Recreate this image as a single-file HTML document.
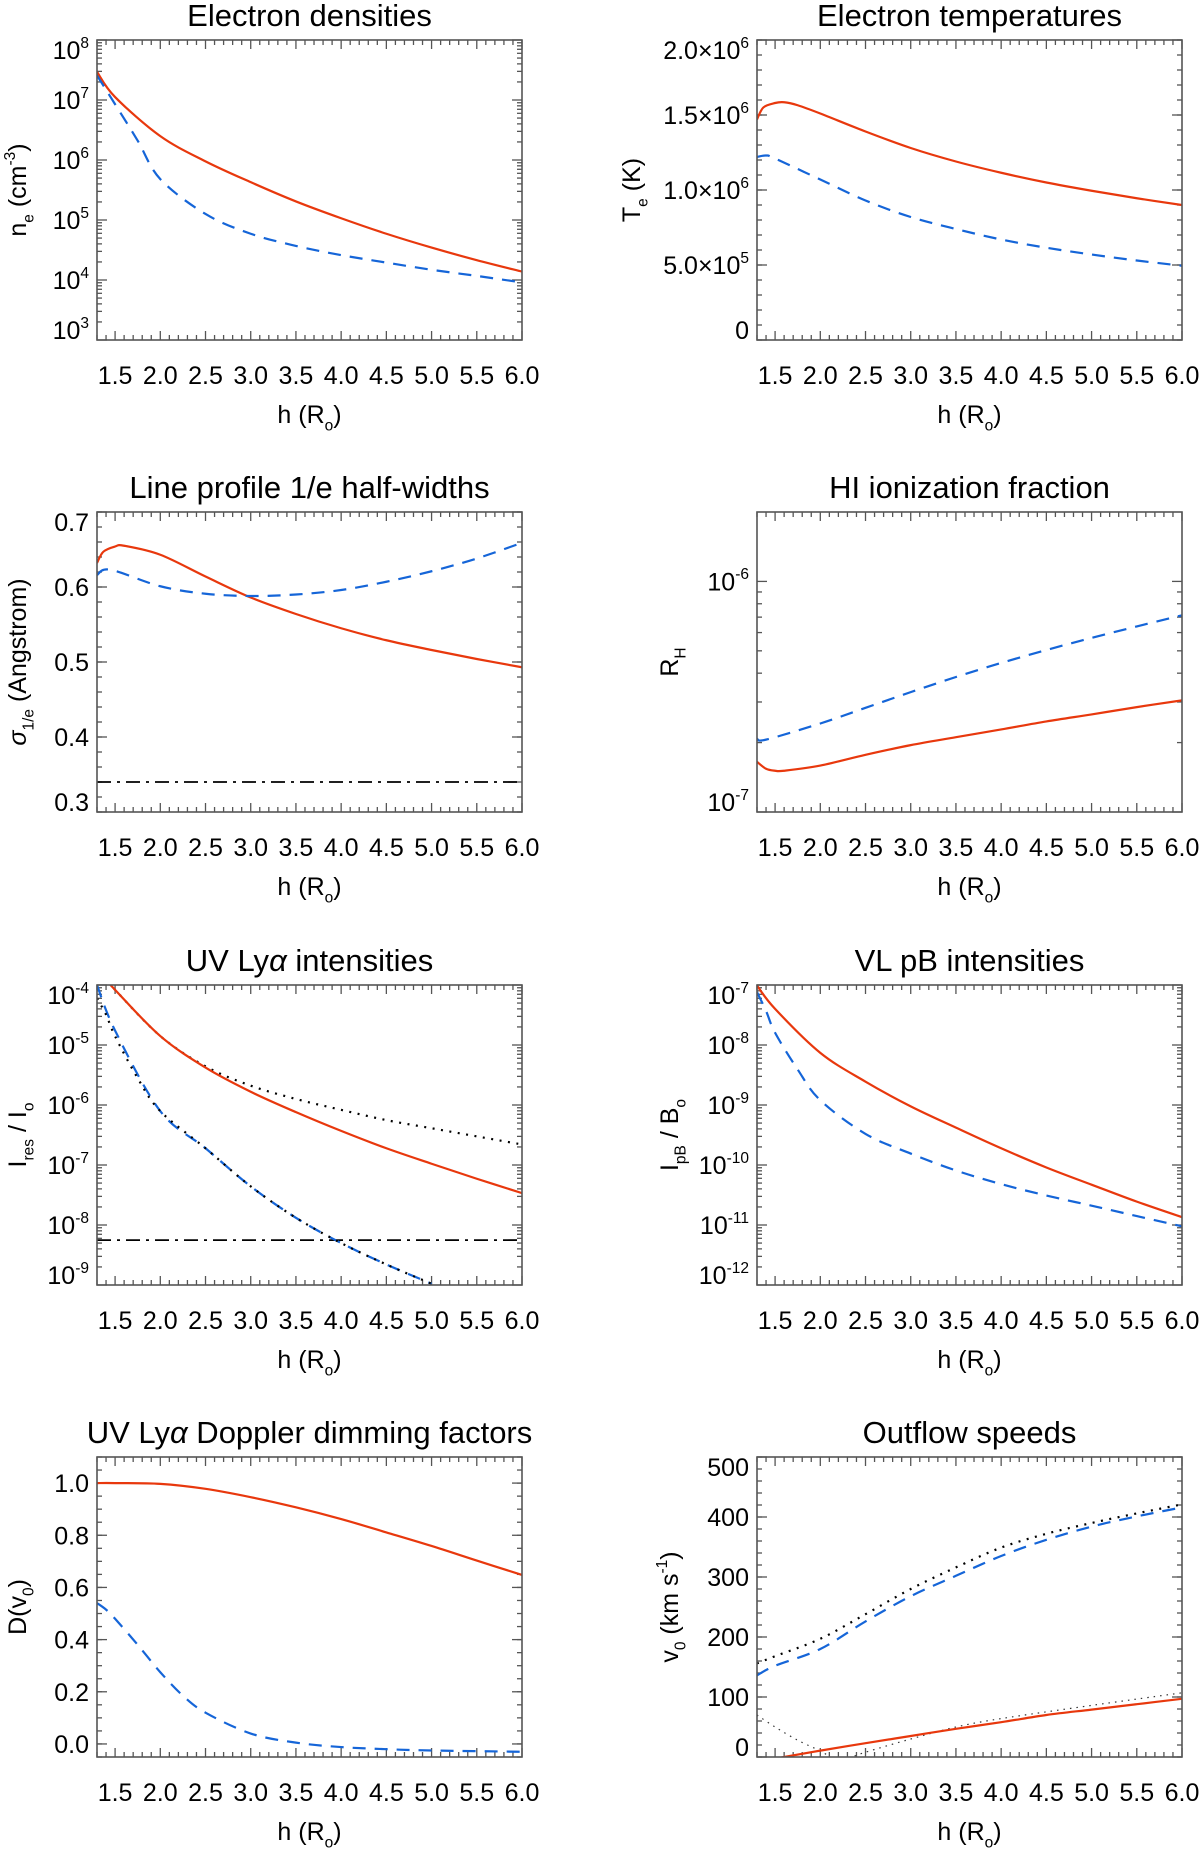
<!DOCTYPE html>
<html><head><meta charset="utf-8"><style>
html,body{margin:0;padding:0;background:#fff;}
svg{display:block;font-family:"Liberation Sans",sans-serif;}
</style></head><body>
<svg id="fig" width="1200" height="1849" viewBox="0 0 1200 1849" xmlns="http://www.w3.org/2000/svg"></svg>
<script>
// ---------- data ----------
const xMin = 1.3, xMax = 6.0;
const xTickLabels = ["1.5","2.0","2.5","3.0","3.5","4.0","4.5","5.0","5.5","6.0"];

// Panel 1: electron densities
const neRedX = [1.3,1.5,2.0,2.5,3.0,3.5,4.0,4.5,5.0,5.5,6.0];
const neRedY = [2.95e7,1.12e7,2.5e6,9.5e5,4.27e5,2.04e5,1.07e5,5.9e4,3.47e4,2.14e4,1.38e4];
const neBlueX = [1.3,1.5,1.75,2.0,2.5,3.0,3.5,4.0,4.5,5.0,5.5,6.0];
const neBlueY = [2.57e7,8.5e6,2.1e6,4.8e5,1.26e5,5.9e4,3.7e4,2.6e4,1.95e4,1.48e4,1.17e4,9.1e3];
const neTicks = [1e3,1e4,1e5,1e6,1e7,1e8];
const neTickExp = ["3","4","5","6","7","8"];

// Panel 2: electron temperatures
const teRedX = [1.3,1.37,1.5,1.6,1.75,2.0,2.5,3.0,3.5,4.0,4.5,5.0,5.5,6.0];
const teRedY = [1.47e6,1.55e6,1.58e6,1.585e6,1.565e6,1.51e6,1.39e6,1.28e6,1.19e6,1.115e6,1.05e6,0.995e6,0.945e6,0.90e6];
const teBlueX = [1.3,1.4,1.5,2.0,2.5,3.0,3.5,4.0,4.5,5.0,5.5,6.0];
const teBlueY = [1.22e6,1.23e6,1.21e6,1.07e6,0.93e6,0.82e6,0.74e6,0.67e6,0.615e6,0.57e6,0.53e6,0.495e6];
const teTicks = [0,5e5,1e6,1.5e6,2e6];
const teTickLabels = ["0","5.0×10|5","1.0×10|6","1.5×10|6","2.0×10|6"];

// Panel 3: line widths
const swRedX = [1.3,1.37,1.5,1.6,2.0,2.5,3.0,3.5,4.0,4.5,5.0,5.5,6.0];
const swRedY = [0.632,0.647,0.654,0.655,0.643,0.614,0.586,0.564,0.545,0.529,0.516,0.504,0.493];
const swBlueX = [1.3,1.45,2.0,2.5,3.0,3.5,4.0,4.5,5.0,5.5,6.0];
const swBlueY = [0.616,0.623,0.601,0.591,0.588,0.590,0.596,0.607,0.621,0.638,0.659];
const swRef = [0.340];
const swTicks = [0.3,0.4,0.5,0.6,0.7];
const swTickLabels = ["0.3","0.4","0.5","0.6","0.7"];

// Panel 4: HI ionization fraction
const rhBlueX = [1.3,1.4,2.0,2.5,3.0,3.5,4.0,4.5,5.0,5.5,6.0];
const rhBlueY = [2.08e-7,2.06e-7,2.42e-7,2.83e-7,3.31e-7,3.85e-7,4.43e-7,5.04e-7,5.69e-7,6.38e-7,7.13e-7];
const rhRedX = [1.3,1.4,1.5,1.6,2.0,2.5,3.0,3.5,4.0,4.5,5.0,5.5,6.0];
const rhRedY = [1.65e-7,1.54e-7,1.51e-7,1.51e-7,1.59e-7,1.77e-7,1.95e-7,2.11e-7,2.28e-7,2.47e-7,2.65e-7,2.85e-7,3.05e-7];
const rhTicks = [1e-7,1e-6];
const rhTickExp = ["-7","-6"];

// Panel 5: UV Ly-alpha intensities
const lyRedX = [1.3,1.5,2.0,2.5,3.0,3.5,4.0,4.5,5.0,5.5,6.0];
const lyRedY = [1.8e-4,8.3e-5,1.41e-5,4.2e-6,1.66e-6,7.6e-7,3.7e-7,1.9e-7,1.05e-7,5.9e-8,3.4e-8];
const lyDotHiX = [1.3,1.5,2.0,2.5,3.0,3.5,4.0,4.5,5.0,5.5,6.0];
const lyDotHiY = [1.8e-4,8.3e-5,1.41e-5,4.4e-6,2.1e-6,1.26e-6,8.3e-7,5.6e-7,4.1e-7,3.0e-7,2.2e-7];
const lyBlueX = [1.3,1.5,2.0,2.5,3.0,3.5,4.0,4.5,5.0];
const lyBlueY = [1.0e-4,1.74e-5,7.9e-7,1.9e-7,4.4e-8,1.32e-8,5.0e-9,2.2e-9,1.05e-9];
const lyDotLoX = [1.3,1.4,1.5,1.75,2.0,2.5,3.0,3.5,4.0,4.5,5.0];
const lyDotLoY = [6.0e-5,3.2e-5,1.4e-5,2.8e-6,7.9e-7,1.9e-7,4.4e-8,1.32e-8,5.0e-9,2.2e-9,1.05e-9];
const lyRef = [5.6e-9];
const lyTicks = [1e-9,1e-8,1e-7,1e-6,1e-5,1e-4];
const lyTickExp = ["-9","-8","-7","-6","-5","-4"];

// Panel 6: VL pB intensities
const pbRedX = [1.3,1.5,2.0,2.5,3.0,3.5,4.0,4.5,5.0,5.5,6.0];
const pbRedY = [9.8e-8,4.0e-8,7.4e-9,2.45e-9,9.5e-10,4.2e-10,1.9e-10,9.1e-11,4.7e-11,2.45e-11,1.35e-11];
const pbBlueX = [1.3,1.4,1.5,1.75,2.0,2.5,3.0,3.5,4.0,4.5,5.0,5.5,6.0];
const pbBlueY = [7.6e-8,3.7e-8,1.6e-8,3.9e-9,1.2e-9,3.3e-10,1.55e-10,8.1e-11,4.8e-11,3.1e-11,2.1e-11,1.41e-11,9.5e-12];
const pbTicks = [1e-12,1e-11,1e-10,1e-9,1e-8,1e-7];
const pbTickExp = ["-12","-11","-10","-9","-8","-7"];

// Panel 7: Doppler dimming
const ddRedX = [1.3,1.5,2.0,2.5,3.0,3.5,4.0,4.5,5.0,5.5,6.0];
const ddRedY = [1.0,1.0,0.997,0.978,0.946,0.907,0.862,0.811,0.759,0.703,0.648];
const ddBlueX = [1.3,1.4,1.5,1.75,2.0,2.25,2.5,3.0,3.5,4.0,4.5,5.0,6.0];
const ddBlueY = [0.54,0.515,0.48,0.38,0.275,0.185,0.12,0.04,0.005,-0.012,-0.02,-0.025,-0.03];
const ddTicks = [0,0.2,0.4,0.6,0.8,1.0];
const ddTickLabels = ["0.0","0.2","0.4","0.6","0.8","1.0"];

// Panel 8: outflow speeds
const vBlueX = [1.3,1.5,2.0,2.5,3.0,3.5,4.0,4.5,5.0,5.5,6.0];
const vBlueY = [136,152,180,226,268,302,335,362,384,401,416];
const vDotHiX = [1.3,1.5,2.0,2.5,3.0,3.5,4.0,4.5,5.0,5.5,6.0];
const vDotHiY = [156,168,197,238,280,316,349,372,390,406,421];
const vRedX = [1.3,1.5,1.6,2.0,2.5,3.0,3.5,4.0,4.5,5.0,5.5,6.0];
const vRedY = [-8,-3,0,10.6,23,35,47,58,70,79,88,97];
const vDotLoX = [1.3,1.5,1.75,2.0,2.2,2.35,2.5,3.0,3.5,4.0,5.0,6.0];
const vDotLoY = [70,50,28,10,-6,0,8,30,50,64,86,107];
const vTicks = [0,100,200,300,400,500];
const vTickLabels = ["0","100","200","300","400","500"];

// ---------- rendering ----------
const NS = "http://www.w3.org/2000/svg";
const svg = document.getElementById("fig");
function el(tag, attrs, parent){
  const e = document.createElementNS(NS, tag);
  for (const k in attrs) e.setAttribute(k, attrs[k]);
  (parent||svg).appendChild(e);
  return e;
}
function richText(parent, x, y, parts, size, anchor, rotate){
  const t = el("text", {x:x, y:y, "font-size":size, "text-anchor":anchor||"middle", fill:"#000"}, parent);
  if (rotate) t.setAttribute("transform", "rotate(-90 "+x+" "+y+")");
  let off = 0;
  parts.forEach(p=>{
    const ts = el("tspan", {}, t);
    let target = 0, fs = size;
    if (p[1]==="sub"){ target = size*0.3; fs = size*0.62; }
    if (p[1]==="sup"){ target = -size*0.45; fs = size*0.62; }
    if (p[1]==="it"){ ts.setAttribute("font-style","italic"); }
    ts.setAttribute("dy", target-off);
    off = target;
    ts.setAttribute("font-size", fs);
    ts.textContent = p[0];
  });
  if (off!==0){ const ts = el("tspan", {dy:-off}, t); ts.textContent = "\u200b"; }
  return t;
}

function smoothPath(pts){
  if (pts.length<2) return "";
  let d = "M"+pts[0][0].toFixed(2)+","+pts[0][1].toFixed(2);
  for (let i=0;i<pts.length-1;i++){
    const p0 = pts[i-1]||pts[i], p1=pts[i], p2=pts[i+1], p3=pts[i+2]||pts[i+1];
    const c1x = p1[0]+(p2[0]-p0[0])/6, c1y = p1[1]+(p2[1]-p0[1])/6;
    const c2x = p2[0]-(p3[0]-p1[0])/6, c2y = p2[1]-(p3[1]-p1[1])/6;
    d += " C"+c1x.toFixed(2)+","+c1y.toFixed(2)+" "+c2x.toFixed(2)+","+c2y.toFixed(2)+" "+p2[0].toFixed(2)+","+p2[1].toFixed(2);
  }
  return d;
}

const STYLES = {
  red:   {stroke:"#e8380d", "stroke-width":2.2, fill:"none"},
  blue:  {stroke:"#1565d8", "stroke-width":2.2, fill:"none", "stroke-dasharray":"13 9"},
  dot:   {stroke:"#000", "stroke-width":2.2, fill:"none", "stroke-dasharray":"2 6.5"},
  thin:  {stroke:"#333", "stroke-width":1.2, fill:"none", "stroke-dasharray":"1.5 5"},
  dashdot:{stroke:"#000", "stroke-width":1.8, fill:"none", "stroke-dasharray":"14 6 3 6"}
};

const FT = 31, FK = 25, FA = 25;
let clipId = 0;
function drawPanel(cfg){
  const g = el("g", {});
  
  
  const {x0,y0,w,h} = cfg;
  const isLog = cfg.log;
  const tr = v => isLog ? Math.log10(v) : v;
  const X = v => x0 + (v - xMin)/(xMax - xMin)*w;
  const Y = v => y0 + h - (tr(v) - cfg.ymin)/(cfg.ymax - cfg.ymin)*h;

  const tt = richText(g, x0+w/2, y0-14, cfg.title, FT, "middle");
  
  

  const tk = el("g", {stroke:"#555", "stroke-width":1.3}, g);
  
  
  for (let i=0;i<=47;i++){
    const v = xMin + i*0.1;
    const major = Math.abs(v*2 - Math.round(v*2))<1e-6;
    const L = major?9:5;
    const px = X(v);
    el("line",{x1:px,y1:y0+h,x2:px,y2:y0+h-L},tk);
    el("line",{x1:px,y1:y0,x2:px,y2:y0+L},tk);
  }
  const yMinorVals = [];
  if (isLog){
    for (let d=Math.floor(cfg.ymin)-1; d<=Math.ceil(cfg.ymax); d++){
      for (let m=2;m<=9;m++){ const lv = d+Math.log10(m); if (lv>cfg.ymin && lv<cfg.ymax) yMinorVals.push(lv); }
    }
  } else {
    for (let v=Math.ceil(cfg.ymin/cfg.minor)*cfg.minor; v<=cfg.ymax+1e-9; v+=cfg.minor) yMinorVals.push(v);
  }
  yMinorVals.forEach(v=>{
    const py = y0 + h - (v-cfg.ymin)/(cfg.ymax-cfg.ymin)*h;
    el("line",{x1:x0,y1:py,x2:x0+5,y2:py},tk);
    el("line",{x1:x0+w,y1:py,x2:x0+w-5,y2:py},tk);
  });
  cfg.ticks.forEach((v,i)=>{
    const py = Y(v);
    el("line",{x1:x0,y1:py,x2:x0+10,y2:py},tk);
    el("line",{x1:x0+w,y1:py,x2:x0+w-10,y2:py},tk);
    let ly = py + 9;
    if (py > y0+h-3) ly -= 10;
    if (py < y0+3) ly += 10;
    const lab = richText(g, x0-8, ly, cfg.tickParts(i), FK, "end");
    
    
  });
  xTickLabels.forEach(s=>{
    const lab = richText(g, X(parseFloat(s)), y0+h+44, [[s,""]], FK, "middle");
    
    
  });
  const xt = richText(g, x0+w/2, y0+h+83, [["h (R",""],["o","sub"],[")",""]], FA, "middle");
  
  
  const yt = richText(g, cfg.ylx, y0+h/2, cfg.ylabel, FA, "middle", true);
  
  

  clipId++;
  const cp = el("clipPath",{id:"c"+clipId}, g);
  el("rect",{x:x0,y:y0,width:w,height:h},cp);
  const plot = el("g",{"clip-path":"url(#c"+clipId+")"}, g);
  (cfg.hlines||[]).forEach(hl=>{
    const ln = el("line", Object.assign({x1:x0,x2:x0+w,y1:Y(hl.v),y2:Y(hl.v)}, STYLES[hl.style]), plot);
    
    
  });
  cfg.series.forEach(s=>{
    const pts = s.x.map((xv,i)=>[X(xv), Y(s.y[i])]);
    const p = el("path", Object.assign({d:smoothPath(pts)}, STYLES[s.style]), plot);
    
    
  });
  const fr = el("rect",{x:x0,y:y0,width:w,height:h,fill:"none",stroke:"#555","stroke-width":1.6}, g);
  
  
}

const LX = 97, RX = 757, W = 425, H = 300;
const ROWS = [40, 512, 985, 1457];
const expParts = arr => i => [["10",""],[arr[i],"sup"]];
const splitParts = arr => i => { const s = arr[i].split("|"); return s.length>1 ? [[s[0],""],[s[1],"sup"]] : [[s[0],""]]; };

drawPanel({name:"electron-densities-panel", x0:LX,y0:ROWS[0],w:W,h:H,log:true,ymin:3,ymax:8,
  ticks:neTicks, tickParts:expParts(neTickExp), title:[["Electron densities",""]],
  ylabel:[["n",""],["e","sub"],[" (cm",""],["-3","sup"],[")",""]], ylx:26,
  series:[{name:"ne-red-line",x:neRedX,y:neRedY,style:"red"},{name:"ne-blue-line",x:neBlueX,y:neBlueY,style:"blue"}]});

drawPanel({name:"electron-temperatures-panel", x0:RX,y0:ROWS[0],w:W,h:H,log:false,ymin:0,ymax:2e6,minor:1e5,
  ticks:teTicks, tickParts:splitParts(teTickLabels), title:[["Electron temperatures",""]],
  ylabel:[["T",""],["e","sub"],[" (K)",""]], ylx:640,
  series:[{name:"te-red-line",x:teRedX,y:teRedY,style:"red"},{name:"te-blue-line",x:teBlueX,y:teBlueY,style:"blue"}]});

drawPanel({name:"line-widths-panel", x0:LX,y0:ROWS[1],w:W,h:H,log:false,ymin:0.3,ymax:0.7,minor:0.02,
  ticks:swTicks, tickParts:i=>[[swTickLabels[i],""]], title:[["Line profile 1/e half-widths",""]],
  ylabel:[["σ","it"],["1/e","sub"],[" (Angstrom)",""]], ylx:26,
  hlines:[{name:"sw-reference-line",v:swRef[0],style:"dashdot"}],
  series:[{name:"sw-red-line",x:swRedX,y:swRedY,style:"red"},{name:"sw-blue-line",x:swBlueX,y:swBlueY,style:"blue"}]});

drawPanel({name:"hi-ionization-panel", x0:RX,y0:ROWS[1],w:W,h:H,log:true,ymin:-7,ymax:Math.log10(2e-6),
  ticks:rhTicks, tickParts:expParts(rhTickExp), title:[["HI ionization fraction",""]],
  ylabel:[["R",""],["H","sub"]], ylx:678,
  series:[{name:"rh-blue-line",x:rhBlueX,y:rhBlueY,style:"blue"},{name:"rh-red-line",x:rhRedX,y:rhRedY,style:"red"}]});

drawPanel({name:"uv-intensities-panel", x0:LX,y0:ROWS[2],w:W,h:H,log:true,ymin:-9,ymax:-4,
  ticks:lyTicks, tickParts:expParts(lyTickExp), title:[["UV Ly",""],["α","it"],[" intensities",""]],
  ylabel:[["I",""],["res","sub"],[" / I",""],["o","sub"]], ylx:26,
  hlines:[{name:"ly-threshold-line",v:lyRef[0],style:"dashdot"}],
  series:[{name:"ly-dotted-upper",x:lyDotHiX,y:lyDotHiY,style:"dot"},{name:"ly-red-line",x:lyRedX,y:lyRedY,style:"red"},
          {name:"ly-blue-line",x:lyBlueX,y:lyBlueY,style:"blue"},{name:"ly-dotted-lower",x:lyDotLoX,y:lyDotLoY,style:"dot"}]});

drawPanel({name:"pb-intensities-panel", x0:RX,y0:ROWS[2],w:W,h:H,log:true,ymin:-12,ymax:-7,
  ticks:pbTicks, tickParts:expParts(pbTickExp), title:[["VL pB intensities",""]],
  ylabel:[["I",""],["pB","sub"],[" / B",""],["o","sub"]], ylx:678,
  series:[{name:"pb-red-line",x:pbRedX,y:pbRedY,style:"red"},{name:"pb-blue-line",x:pbBlueX,y:pbBlueY,style:"blue"}]});

drawPanel({name:"doppler-dimming-panel", x0:LX,y0:ROWS[3],w:W,h:H,log:false,ymin:-0.05,ymax:1.1,minor:0.05,
  ticks:ddTicks, tickParts:i=>[[ddTickLabels[i],""]], title:[["UV Ly",""],["α","it"],[" Doppler dimming factors",""]],
  ylabel:[["D(v",""],["0","sub"],[")",""]], ylx:26,
  series:[{name:"dd-red-line",x:ddRedX,y:ddRedY,style:"red"},{name:"dd-blue-line",x:ddBlueX,y:ddBlueY,style:"blue"}]});

drawPanel({name:"outflow-speeds-panel", x0:RX,y0:ROWS[3],w:W,h:H,log:false,ymin:0,ymax:500,minor:20,
  ticks:vTicks, tickParts:i=>[[vTickLabels[i],""]], title:[["Outflow speeds",""]],
  ylabel:[["v",""],["0","sub"],[" (km s",""],["-1","sup"],[")",""]], ylx:678,
  series:[{name:"v-dotted-upper",x:vDotHiX,y:vDotHiY,style:"dot"},{name:"v-blue-line",x:vBlueX,y:vBlueY,style:"blue"},
          {name:"v-dotted-lower",x:vDotLoX,y:vDotLoY,style:"thin"},{name:"v-red-line",x:vRedX,y:vRedY,style:"red"}]});
</script>
</body></html>
